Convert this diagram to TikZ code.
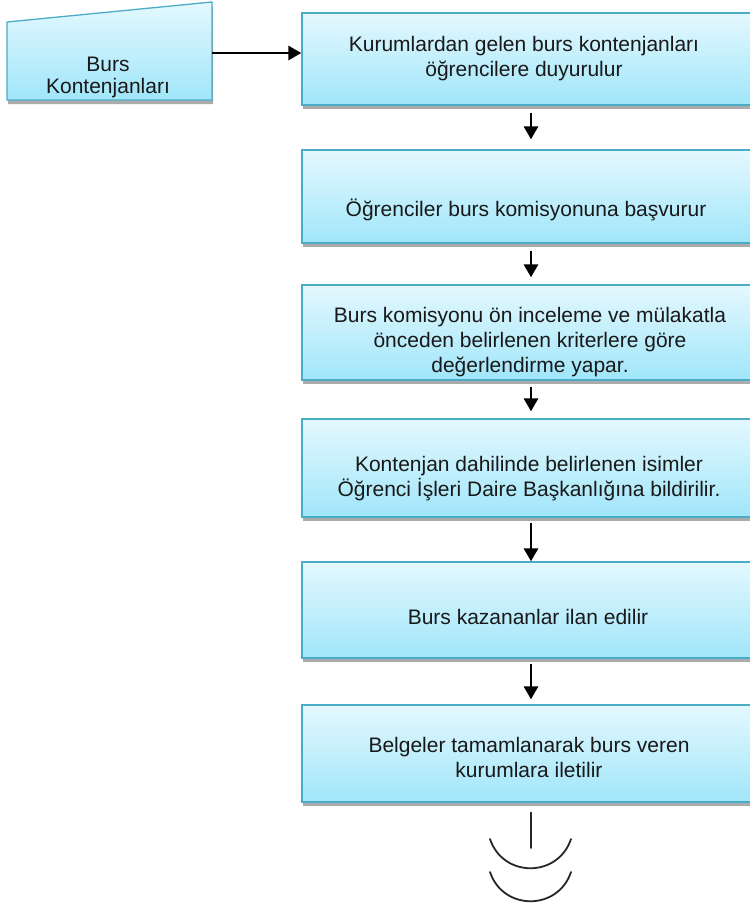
\documentclass[tikz,border=0pt]{standalone}
\usepackage{fontspec}
\setmainfont{Liberation Sans}
\usetikzlibrary{arrows.meta,shadows,calc}
\definecolor{bordc}{HTML}{4BACC6}
\definecolor{topc}{HTML}{E4F8FE}
\definecolor{botc}{HTML}{A0E6FA}
\tikzset{
  procbox/.style={draw=bordc, line width=1.3pt, top color=topc, bottom color=botc,
    minimum width=458pt, inner sep=0pt,
    drop shadow={shadow xshift=1pt, shadow yshift=-4pt, fill=black!55, opacity=0.6}},
  inbox/.style={draw=bordc, line width=1.3pt, top color=topc, bottom color=botc,
    drop shadow={shadow xshift=1pt, shadow yshift=-4pt, fill=black!55, opacity=0.6}},
  boxtext/.style={align=center, font=\fontsize{21}{25}\selectfont, text=black!90, inner sep=0pt},
  arr/.style={line width=2.9pt, -{Triangle[length=13pt,width=14pt]}},
  symline/.style={line width=1.8pt, black!85, line cap=round},
}
\begin{document}
\begin{tikzpicture}[x=1pt,y=-1pt]
\useasboundingbox (0,0) rectangle (750,906);
\fill[white] (0,0) rectangle (750,906);
\clip (0,0) rectangle (750,906);

% manual input
\path[inbox] (7,22) coordinate (m1) -- (212,2) coordinate (m2) -- (212,100) coordinate (m3) -- (7,100) coordinate (m4) -- cycle;
\coordinate (mi) at (212,53);
\node[boxtext, font=\fontsize{21}{22}\selectfont] (mt) at (108,77) {Burs\\Kontenjanları};

% process boxes
\node[procbox, minimum height=92pt] (b1) at (531,59) {};
\node[procbox, minimum height=93pt] (b2) at (531,196.5) {};
\node[procbox, minimum height=95pt] (b3) at (531,332.5) {};
\node[procbox, minimum height=98pt] (b4) at (531,468) {};
\node[procbox, minimum height=96pt] (b5) at (531,610) {};
\node[procbox, minimum height=97pt] (b6) at (531,753.5) {};

\node[boxtext] (t1) at (524,59) {Kurumlardan gelen burs kontenjanları\\öğrencilere duyurulur};
\node[boxtext] (t2) at (526,210) {Öğrenciler burs komisyonuna başvurur};
\node[boxtext] (t3) at (530,342) {Burs komisyonu ön inceleme ve mülakatla\\önceden belirlenen kriterlere göre\\değerlendirme yapar.};
\node[boxtext] (t4) at (529,479) {Kontenjan dahilinde belirlenen isimler\\Öğrenci İşleri Daire Başkanlığına bildirilir.};
\node[boxtext] (t5) at (528,617) {Burs kazananlar ilan edilir};
\node[boxtext] (t6) at (529,757) {Belgeler tamamlanarak burs veren\\kurumlara iletilir};

% connectors
\draw[arr] (mi) -- (b1.west |- mi);
\draw[arr] ($(b1.south)+(0,7)$) -- ($(b2.north)+(0,-10)$);
\draw[arr] ($(b2.south)+(0,7)$) -- ($(b3.north)+(0,-7)$);
\draw[arr] ($(b3.south)+(0,6)$) -- ($(b4.north)+(0,-7)$);
\draw[arr] ($(b4.south)+(0,5)$) -- (b5.north);
\draw[arr] ($(b5.south)+(0,5)$) -- ($(b6.north)+(0,-5)$);

% off-page connector symbol
\coordinate (ls) at ($(b6.south)+(0,10)$);
\coordinate (le) at (531,848);
\draw[symline] (ls) -- (le);
\coordinate (a1l) at (490,839);
\coordinate (a1r) at (571,839);
\coordinate (a2l) at (490,872);
\coordinate (a2r) at (571,872);
\draw[symline] (a1l) .. controls (503,878) and (558,878) .. (a1r);
\draw[symline] (a2l) .. controls (503,911) and (558,911) .. (a2r);
\end{tikzpicture}
\end{document}
